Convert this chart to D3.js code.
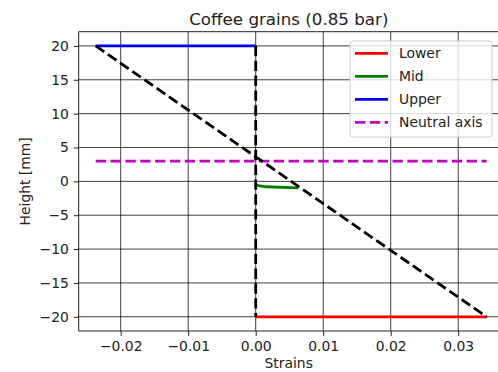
<!DOCTYPE html>
<html>
<head>
<meta charset="utf-8">
<script src="https://cdn.jsdelivr.net/npm/d3@7"></script>
<style>
  html, body { margin: 0; padding: 0; background: #fff; }
  svg { display: block; font-family: "DejaVu Sans", sans-serif; }
</style>
</head>
<body>
<svg id="chart" width="498" height="372"></svg>
<script>
// Strain distribution across the section height
const lowerX = [0, 0.0342];
const lowerY = [-20, -20];
const midX = [0, 0.0015, 0.0063];
const midY = [-0.55, -0.8, -0.95];
const upperX = [-0.0237, 0];
const upperY = [20, 20];
const neutralX = [-0.0237, 0.0342];
const neutralY = [3, 3];
const profileX = [-0.0237, 0.0342];
const profileY = [20, -20];
const sectionX = [0, 0];
const sectionY = [20, -20];

const xTicks = [-0.02, -0.01, 0.00, 0.01, 0.02, 0.03];
const yTicks = [-20, -15, -10, -5, 0, 5, 10, 15, 20];
const legendLabels = ["Lower", "Mid", "Upper", "Neutral axis"];

const svg = d3.select("#chart");
const plotLeft = 78.7, plotRight = 499, plotTop = 31.7, plotBottom = 331;

const x = d3.scaleLinear().domain([-0.02622, 0.03604]).range([plotLeft, plotRight]);
const y = d3.scaleLinear().domain([-22.1, 22.1]).range([plotBottom, plotTop]);

const fmtX = v => d3.format(".2f")(v).replace("-", "\u2212");
const fmtY = v => String(v).replace("-", "\u2212");

// grid
const grid = svg.append("g");
xTicks.forEach(t => grid.append("line")
  .attr("x1", x(t)).attr("x2", x(t)).attr("y1", plotTop).attr("y2", plotBottom)
  .attr("stroke", "#000").attr("stroke-opacity", 0.75).attr("stroke-width", 1));
yTicks.forEach(t => grid.append("line")
  .attr("x1", plotLeft).attr("x2", plotRight).attr("y1", y(t)).attr("y2", y(t))
  .attr("stroke", "#000").attr("stroke-opacity", 0.75).attr("stroke-width", 1));

// axes
const xAxis = d3.axisBottom(x).tickValues(xTicks).tickFormat(fmtX).tickSize(4.9).tickPadding(4.9);
const yAxis = d3.axisLeft(y).tickValues(yTicks).tickFormat(fmtY).tickSize(4.9).tickPadding(4.9);
const gx = svg.append("g").attr("transform", `translate(0,${plotBottom})`).call(xAxis);
const gy = svg.append("g").attr("transform", `translate(${plotLeft},0)`).call(yAxis);
[gx, gy].forEach(g => {
  g.select(".domain").remove();
  g.selectAll("text").attr("font-size", "13.9px").attr("fill", "#222")
    .attr("font-family", "DejaVu Sans, sans-serif");
  g.selectAll(".tick line").attr("stroke", "#222").attr("stroke-width", 1);
});

// spines
svg.append("line").attr("x1", plotLeft).attr("x2", plotLeft).attr("y1", plotTop).attr("y2", plotBottom)
  .attr("stroke", "#222").attr("stroke-width", 1);
svg.append("line").attr("x1", plotLeft).attr("x2", plotRight).attr("y1", plotBottom).attr("y2", plotBottom)
  .attr("stroke", "#222").attr("stroke-width", 1);
svg.append("line").attr("x1", plotLeft).attr("x2", plotRight).attr("y1", plotTop).attr("y2", plotTop)
  .attr("stroke", "#222").attr("stroke-width", 1);

// data lines
const line = d3.line().x(d => x(d[0])).y(d => y(d[1]));
const zip = (a, b) => a.map((v, i) => [v, b[i]]);
const lw = 2.8;
const dash = `${3.7 * lw},${1.6 * lw}`;

const series = [
  { xs: lowerX, ys: lowerY, color: "#ff0000", dash: null },
  { xs: midX, ys: midY, color: "#008000", dash: null },
  { xs: upperX, ys: upperY, color: "#0000ff", dash: null },
  { xs: neutralX, ys: neutralY, color: "#bf00bf", dash: dash },
  { xs: profileX, ys: profileY, color: "#000", dash: dash },
  { xs: sectionX, ys: sectionY, color: "#000", dash: dash }
];
series.forEach(s => {
  svg.append("path").datum(zip(s.xs, s.ys))
    .attr("d", line).attr("fill", "none")
    .attr("stroke", s.color).attr("stroke-width", lw)
    .attr("stroke-dasharray", s.dash);
});

// title and axis labels
svg.append("text").attr("x", (plotLeft + plotRight) / 2).attr("y", 25)
  .attr("text-anchor", "middle").attr("font-size", "16.7px").attr("fill", "#222")
  .text("Coffee grains (0.85 bar)");
svg.append("text").attr("x", 288.7).attr("y", 368)
  .attr("text-anchor", "middle").attr("font-size", "13.9px").attr("fill", "#222")
  .text("Strains");
svg.append("text").attr("transform", `translate(30,${(plotTop + plotBottom) / 2}) rotate(-90)`)
  .attr("text-anchor", "middle").attr("font-size", "13.9px").attr("fill", "#222")
  .text("Height [mm]");

// legend
const lg = svg.append("g");
lg.append("rect").attr("x", 350).attr("y", 41).attr("width", 142).attr("height", 96)
  .attr("rx", 3).attr("fill", "#fff").attr("fill-opacity", 0.8)
  .attr("stroke", "#ccc").attr("stroke-width", 1);
const legendStyles = series.slice(0, 4);
legendLabels.forEach((lab, i) => {
  const cy = 53.3 + i * 23;
  lg.append("line").attr("x1", 355).attr("x2", 388).attr("y1", cy).attr("y2", cy)
    .attr("stroke", legendStyles[i].color).attr("stroke-width", lw)
    .attr("stroke-dasharray", legendStyles[i].dash);
  lg.append("text").attr("x", 399).attr("y", cy + 5)
    .attr("font-size", "13.9px").attr("fill", "#222").text(lab);
});
</script>
</body>
</html>
